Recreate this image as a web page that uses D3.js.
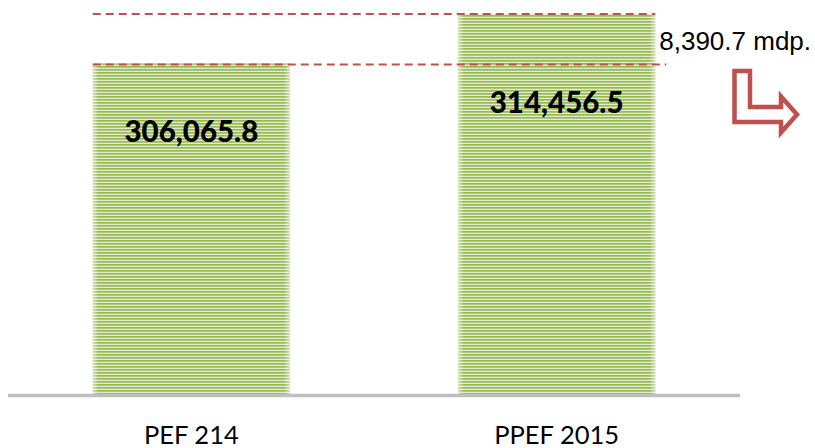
<!DOCTYPE html>
<html>
<head>
<meta charset="utf-8">
<title>PEF 2014 vs PPEF 2015</title>
<style>
  html, body { margin: 0; padding: 0; background: #ffffff; }
  svg { display: block; }
</style>
</head>
<body>
<script src="https://cdn.jsdelivr.net/npm/d3@7"></script>
<script>

// datos del grafico
var categories = ["PEF 214", "PPEF 2015"];
var values     = [306065.8, 314456.5];
var valueLabels = ["306,065.8", "314,456.5"];
var diffLabel  = "8,390.7 mdp.";

var width  = 815;
var height = 448;
var baseY  = 394;   // linea base (eje x)

var svg = d3.select("body")
  .append("svg")
  .attr("width", width)
  .attr("height", height);

// escala: el eje no empieza en cero
var y = d3.scaleLinear()
  .domain([250000, 320000])
  .range([baseY, baseY - 70000 * (380 / 64456.5)]);

var x = d3.scaleBand()
  .domain(categories)
  .range([8, 740])
  .paddingInner(0.46)
  .paddingOuter(0.232);

var defs = svg.append("defs");

// rayas horizontales verdes
var pat = defs.append("pattern")
  .attr("id", "rayas")
  .attr("patternUnits", "userSpaceOnUse")
  .attr("width", 8)
  .attr("height", 3);
pat.append("rect").attr("width", 8).attr("height", 3).attr("fill", "#e1ebcf");
pat.append("rect").attr("width", 8).attr("height", 1.7).attr("fill", "#98ba52");

// brillo en los bordes de la barra
var grad = defs.append("linearGradient")
  .attr("id", "borde")
  .attr("x1", "0").attr("x2", "1").attr("y1", "0").attr("y2", "0");
grad.append("stop").attr("offset", "0").attr("stop-color", "#fff").attr("stop-opacity", 0.55);
grad.append("stop").attr("offset", "0.03").attr("stop-color", "#fff").attr("stop-opacity", 0);
grad.append("stop").attr("offset", "0.97").attr("stop-color", "#fff").attr("stop-opacity", 0);
grad.append("stop").attr("offset", "1").attr("stop-color", "#fff").attr("stop-opacity", 0.55);

var g = svg.append("g");

g.selectAll("rect.barra")
  .data(values)
  .enter()
  .append("rect")
  .attr("class", "barra")
  .attr("x", function(d, i) { return x(categories[i]); })
  .attr("y", function(d) { return y(d); })
  .attr("width", x.bandwidth())
  .attr("height", function(d) { return baseY - y(d); })
  .attr("fill", "url(#rayas)");

g.selectAll("rect.brillo")
  .data(values)
  .enter()
  .append("rect")
  .attr("class", "brillo")
  .attr("x", function(d, i) { return x(categories[i]); })
  .attr("y", function(d) { return y(d); })
  .attr("width", x.bandwidth())
  .attr("height", function(d) { return baseY - y(d); })
  .attr("fill", "url(#borde)");

// eje x (linea gris)
svg.append("line")
  .attr("x1", 8).attr("x2", 740)
  .attr("y1", baseY + 1.5).attr("y2", baseY + 1.5)
  .attr("stroke", "#bfbfbf")
  .attr("stroke-width", 3.5);

// etiquetas de categorias
svg.selectAll("text.cat")
  .data(categories)
  .enter()
  .append("text")
  .attr("class", "cat")
  .attr("x", function(d) { return x(d) + x.bandwidth() / 2; })
  .attr("y", 444)
  .attr("text-anchor", "middle")
  .attr("font-family", "Lato, sans-serif")
  .attr("font-size", 25.5)
  .attr("fill", "#000")
  .text(function(d) { return d; });

// etiquetas de valores dentro de las barras
var labelOffset = [79, 99];
svg.selectAll("text.val")
  .data(values)
  .enter()
  .append("text")
  .attr("class", "val")
  .attr("x", function(d, i) { return x(categories[i]) + x.bandwidth() / 2; })
  .attr("y", function(d, i) { return y(d) + labelOffset[i]; })
  .attr("text-anchor", "middle")
  .attr("font-family", "Lato, sans-serif")
  .attr("font-weight", 900)
  .attr("font-size", 29.5)
  .attr("fill", "#000")
  .text(function(d, i) { return valueLabels[i]; });

// lineas punteadas de diferencia
var x0 = x(categories[0]);
var x1 = x(categories[1]) + x.bandwidth();
svg.append("line")
  .attr("x1", x0).attr("x2", x1)
  .attr("y1", y(values[1])).attr("y2", y(values[1]))
  .attr("stroke", "#c0504d").attr("stroke-width", 2)
  .attr("stroke-dasharray", "8,5");
svg.append("line")
  .attr("x1", x0).attr("x2", x1 + 11)
  .attr("y1", y(values[0]) + 1).attr("y2", y(values[0]) + 1)
  .attr("stroke", "#c0504d").attr("stroke-width", 2)
  .attr("stroke-dasharray", "8,5");

svg.append("text")
  .attr("x", x1 + 4)
  .attr("y", 50)
  .attr("font-family", "'Liberation Sans', Arial, sans-serif")
  .attr("font-size", 26)
  .attr("fill", "#000")
  .text(diffLabel);

// flecha en L
var flecha = d3.path();
flecha.moveTo(734.5, 71);
flecha.lineTo(750, 71);
flecha.lineTo(750, 107);
flecha.lineTo(781, 107);
flecha.lineTo(781, 96.5);
flecha.lineTo(797, 114.5);
flecha.lineTo(781, 132.5);
flecha.lineTo(781, 122);
flecha.lineTo(734.5, 122);
flecha.closePath();
svg.append("path")
  .attr("d", flecha.toString())
  .attr("fill", "#fff")
  .attr("stroke", "#c0504d")
  .attr("stroke-width", 4.5)
  .attr("stroke-linejoin", "miter");

</script>
</body>
</html>
